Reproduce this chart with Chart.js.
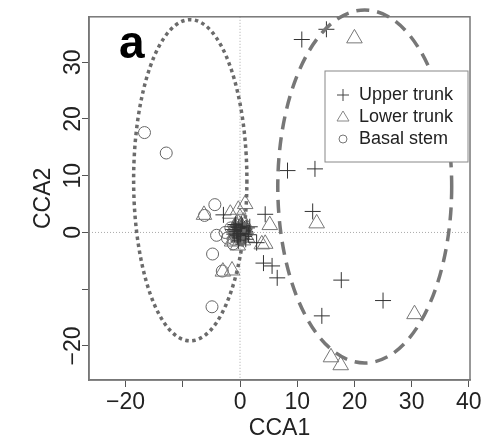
<!DOCTYPE html>
<html>
<head>
<meta charset="utf-8">
<script src="https://cdn.jsdelivr.net/npm/chart.js@4/dist/chart.umd.min.js"></script>
<style>
  body { margin: 0; background: #fff; }
</style>
</head>
<body>
<canvas id="ccaChart" width="490" height="440"></canvas>
<script>
// CCA scores (CCA1, CCA2)
var upperX = [10.8, 15.1, 8.3, 13.1, 12.7, 17.7, 25.0, 14.3, 4.1, 5.6, 6.5, 4.4, -2.9, 1.7, 2.9, 0.5, -0.5, 1.0, -1.2, 0.2, -0.3, 0.8, 1.5, -0.9,
              0.1, -0.6, 0.7, -0.2, 0.4, -1.0, 0.9, 0.0, -0.4, 0.6, 1.2, -0.8];
var upperY = [34.0, 35.8, 10.9, 11.2, 3.7, -8.4, -12.0, -14.7, -5.4, -5.9, -8.0, 3.2, 3.1, 1.0, -1.8, 0.3, -0.8, -1.2, 0.5, 1.5, -1.5, 0.6, -0.4, 1.1,
              -0.2, 0.2, -0.7, 0.9, 1.2, -0.3, 0.1, -1.0, -0.5, 0.4, 0.8, 1.4];
var lowerX = [20.0, 13.4, 30.5, 15.9, 17.6, -6.3, -3.0, -1.4, 0.9, -0.3, -1.7, 5.2, 3.8, 4.4, -1.4, 0.3, -0.8, 0.6, 1.2, -0.4, 0.0, -1.0, 0.4, -0.2,
              -0.5, 0.2, 0.8, -0.9, 0.1, 0.5, -0.3, 1.0];
var lowerY = [34.2, 1.6, -14.4, -22.0, -23.4, 3.1, -6.9, -6.7, 5.0, 4.0, 3.3, 1.3, -2.1, -2.0, -1.6, -0.3, 0.8, 1.9, -0.9, -2.3, 2.6, -0.4, 0.9, -1.0,
              0.3, 1.2, 0.2, 1.0, -0.6, -1.4, 1.6, 0.6];
var basalX = [-16.7, -12.9, -4.4, -4.1, -4.8, -4.9, -6.2, -3.1, -2.2, -1.6, -0.8, 0.2, -0.5, -1.2, 0.5, -0.2, -2.6, -0.9, -0.3, 0.3, -1.1];
var basalY = [17.6, 14.0, 4.9, -0.5, -3.8, -13.1, 3.0, -6.8, -1.0, 0.8, -0.5, 0.4, 1.3, -2.0, -1.0, -0.2, 0.0, 0.2, 0.6, -0.4, -1.2];

var seriesNames = ['Upper trunk', 'Lower trunk', 'Basal stem'];
var xTicks = [-20, -10, 0, 10, 20, 30, 40];
var yTicks = [-20, -10, 0, 10, 20, 30];

// group ellipses (centre and half-axes in CCA units): dotted, dashed
var ellCx = [-8.7, 21.8];
var ellCy = [9.2, 8.1];
var ellRx = [9.9, 15.2];
var ellRy = [28.3, 31.1];

function toPoints(xs, ys) {
    return xs.map(function (x, i) { return { x: x, y: ys[i] }; });
}

function tickText(v) {
    if (v === -10) return '';
    return v < 0 ? '\u2212' + Math.abs(v) : String(v);
}

var extras = {
    id: 'extras',
    beforeDatasetsDraw: function (chart) {
        var ctx = chart.ctx, a = chart.chartArea;
        var x0 = chart.scales.x.getPixelForValue(0);
        var y0 = chart.scales.y.getPixelForValue(0);
        ctx.save();
        ctx.strokeStyle = '#aaa';
        ctx.lineWidth = 1;
        ctx.setLineDash([1, 2]);
        ctx.beginPath();
        ctx.moveTo(x0, a.top); ctx.lineTo(x0, a.bottom);
        ctx.moveTo(a.left, y0); ctx.lineTo(a.right, y0);
        ctx.stroke();
        ctx.restore();
    },
    afterDatasetsDraw: function (chart) {
        var ctx = chart.ctx, sx = chart.scales.x, sy = chart.scales.y;
        var dashes = [[3.5, 3.5], [13, 8]];
        var colors = ['#6b6b6b', '#777'];
        ctx.save();
        for (var i = 0; i < ellCx.length; i++) {
            var cx = sx.getPixelForValue(ellCx[i]);
            var cy = sy.getPixelForValue(ellCy[i]);
            var rx = Math.abs(sx.getPixelForValue(ellCx[i] + ellRx[i]) - cx);
            var ry = Math.abs(sy.getPixelForValue(ellCy[i] + ellRy[i]) - cy);
            ctx.strokeStyle = colors[i];
            ctx.lineWidth = 3.5;
            ctx.lineCap = 'butt';
            ctx.setLineDash(dashes[i]);
            ctx.beginPath();
            ctx.ellipse(cx, cy, rx, ry, 0, 0, Math.PI * 2);
            ctx.stroke();
        }
        ctx.restore();
    },
    afterDraw: function (chart) {
        var ctx = chart.ctx, a = chart.chartArea, sy = chart.scales.y;
        ctx.save();
        // plot box
        ctx.strokeStyle = '#777';
        ctx.lineWidth = 1.5;
        ctx.setLineDash([]);
        ctx.strokeRect(a.left, a.top, a.right - a.left, a.bottom - a.top);

        // y tick labels, rotated like the original
        ctx.fillStyle = '#222';
        ctx.font = '23px Arial, "Liberation Sans", sans-serif';
        ctx.textAlign = 'center';
        ctx.textBaseline = 'middle';
        yTicks.forEach(function (v) {
            var t = tickText(v);
            if (!t) return;
            ctx.save();
            ctx.translate(74, sy.getPixelForValue(v));
            ctx.rotate(-Math.PI / 2);
            ctx.fillText(t, 0, 0);
            ctx.restore();
        });

        // panel letter
        ctx.font = 'bold 46px Arial, "Liberation Sans", sans-serif';
        ctx.textAlign = 'left';
        ctx.textBaseline = 'alphabetic';
        ctx.fillStyle = '#000';
        ctx.fillText('a', 119, 58);

        // legend box
        var lx = 325, ly = 71, lw = 143, lh = 91;
        ctx.fillStyle = '#fff';
        ctx.fillRect(lx, ly, lw, lh);
        ctx.strokeStyle = '#888';
        ctx.lineWidth = 1;
        ctx.strokeRect(lx, ly, lw, lh);
        var rowY = [95, 117, 139];
        var symColors = ['#444', '#888', '#777'];
        rowY.forEach(function (yy, i) {
            var xx = 343;
            ctx.strokeStyle = symColors[i];
            ctx.lineWidth = 1;
            ctx.beginPath();
            if (i === 0) {
                ctx.moveTo(xx - 6, yy); ctx.lineTo(xx + 6, yy);
                ctx.moveTo(xx, yy - 6); ctx.lineTo(xx, yy + 6);
            } else if (i === 1) {
                ctx.moveTo(xx, yy - 6); ctx.lineTo(xx + 6, yy + 4); ctx.lineTo(xx - 6, yy + 4); ctx.closePath();
            } else {
                ctx.arc(xx, yy, 4, 0, Math.PI * 2);
            }
            ctx.stroke();
            ctx.fillStyle = '#222';
            ctx.font = '18px Arial, "Liberation Sans", sans-serif';
            ctx.textBaseline = 'middle';
            ctx.fillText(seriesNames[i], 359, yy);
        });
        ctx.restore();
    }
};

var ctx = document.getElementById('ccaChart').getContext('2d');
var ccaChart = new Chart(ctx, {
    type: 'scatter',
    data: {
        datasets: [{
            label: seriesNames[0],
            data: toPoints(upperX, upperY),
            pointStyle: 'cross',
            pointRadius: 8,
            borderColor: '#333',
            borderWidth: 1,
            backgroundColor: 'transparent'
        },
        {
            label: seriesNames[1],
            data: toPoints(lowerX, lowerY),
            pointStyle: 'triangle',
            pointRadius: 9,
            borderColor: '#777',
            borderWidth: 1,
            backgroundColor: 'transparent'
        },
        {
            label: seriesNames[2],
            data: toPoints(basalX, basalY),
            pointStyle: 'circle',
            pointRadius: 6,
            borderColor: '#666',
            borderWidth: 1,
            backgroundColor: 'transparent'
        }
        ]
    },
    options: {
        responsive: false,
        animation: false,
        events: [],
        layout: { padding: { left: 0, right: 20, top: 13, bottom: 0 } },
        plugins: {
            legend: { display: false },
            tooltip: { enabled: false }
        },
        scales: {
            x: {
                min: -26.4,
                max: 40.2,
                afterFit: function (s) { s.height = 60; },
                afterBuildTicks: function (s) {
                    s.ticks = xTicks.map(function (v) { return { value: v }; });
                },
                grid: { drawOnChartArea: false, drawTicks: true, tickLength: 7, tickColor: '#555' },
                border: { display: true, color: '#777', width: 1.5 },
                ticks: {
                    autoSkip: false,
                    maxRotation: 0,
                    padding: 2,
                    color: '#222',
                    font: { family: 'Arial, "Liberation Sans", sans-serif', size: 23 },
                    callback: function (v) { return tickText(v); }
                },
                title: {
                    display: true,
                    text: 'CCA1',
                    color: '#222',
                    padding: { top: 0, bottom: 0 },
                    font: { family: 'Arial, "Liberation Sans", sans-serif', size: 23, lineHeight: 1 }
                }
            },
            y: {
                min: -26,
                max: 38,
                afterFit: function (s) { s.width = 89; },
                afterBuildTicks: function (s) {
                    s.ticks = yTicks.map(function (v) { return { value: v }; });
                },
                grid: { drawOnChartArea: false, drawTicks: true, tickLength: 7, tickColor: '#555' },
                border: { display: true, color: '#777', width: 1.5 },
                ticks: {
                    color: 'transparent',
                    font: { size: 23 },
                    callback: function (v) { return tickText(v); }
                },
                title: {
                    display: true,
                    text: 'CCA2',
                    color: '#222',
                    padding: { top: 32, bottom: 0 },
                    font: { family: 'Arial, "Liberation Sans", sans-serif', size: 23, lineHeight: 1 }
                }
            }
        }
    },
    plugins: [extras]
});
</script>
</body>
</html>
